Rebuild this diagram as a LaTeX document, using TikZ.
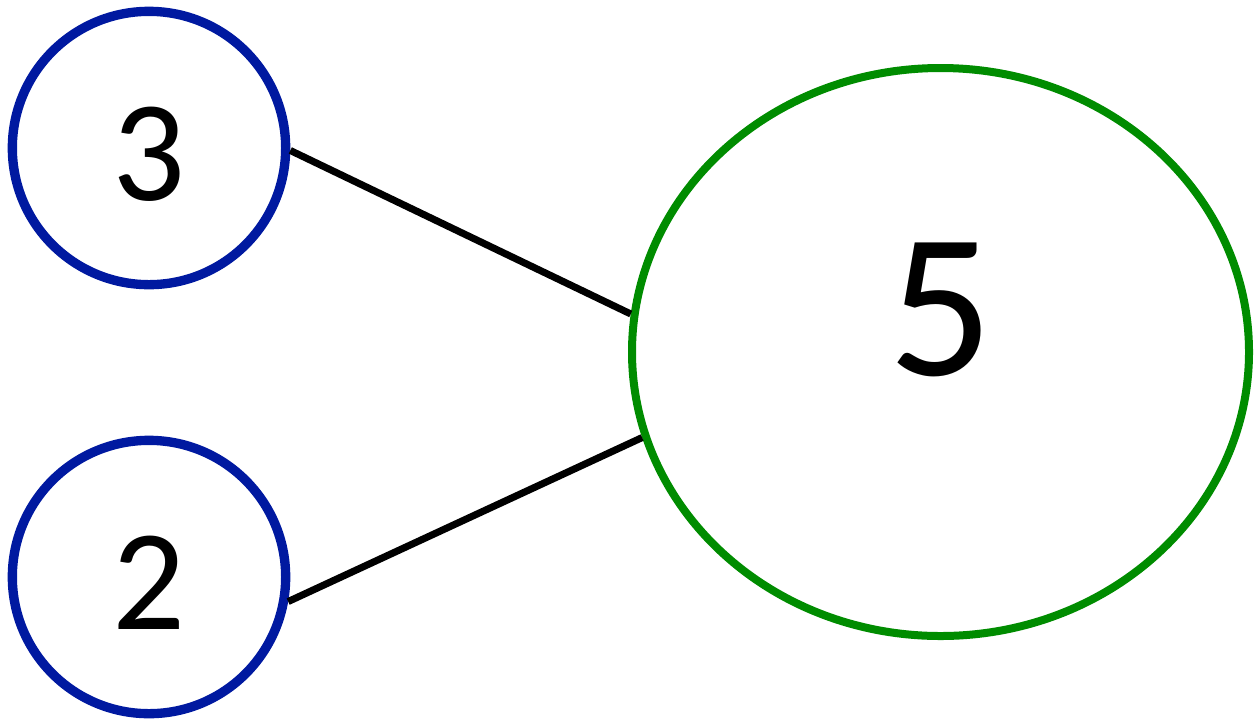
\documentclass[tikz,border=0pt]{standalone}
\usepackage{fontspec}
\setmainfont{Carlito}
\usepackage{xcolor}
\usetikzlibrary{shapes.geometric}
\definecolor{ringblue}{RGB}{0,25,160}
\definecolor{ringgreen}{RGB}{0,140,0}
\newcommand{\digitat}[2]{\raisebox{#1}[0pt][0pt]{#2}}
\begin{document}
\begin{tikzpicture}[x=0.75pt,y=0.75pt,yscale=-1,xscale=1,
  part/.style={circle,draw=ringblue,line width=7pt,minimum size=205pt,inner sep=0pt,font=\fontsize{108}{108}\selectfont},
  whole/.style={ellipse,draw=ringgreen,line width=6pt,minimum width=462.75pt,minimum height=426pt,inner sep=0pt,font=\fontsize{155}{155}\selectfont},
  link/.style={line width=5.3pt}]
\useasboundingbox (0,0) rectangle (1255,719);
\node [part] (three) at (149,148) {\digitat{-39.4pt}{3}};
\node [part] (two) at (149,577) {\digitat{-39.4pt}{2}};
\node [whole] (five) at (940.5,352) {\digitat{-17.25pt}{5}};
\draw [link] (three.-1) -- (five.173.7);
\draw [link] (two.-10) -- (five.196.5);
\end{tikzpicture}
\end{document}
